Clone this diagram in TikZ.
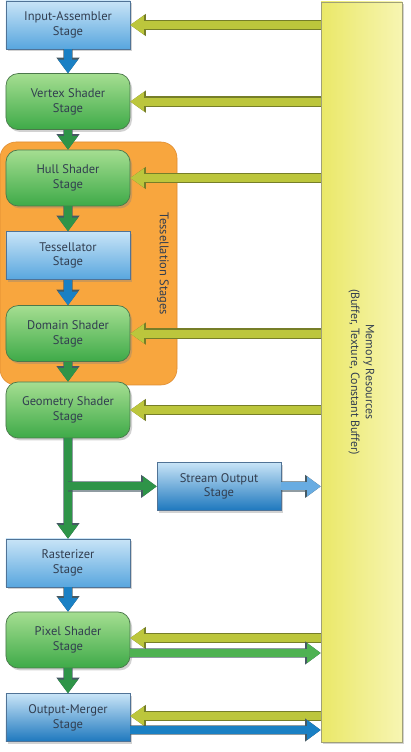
\documentclass[tikz,border=0pt]{standalone}
\usepackage{fontspec}
\setmainfont{PT Sans}
\setsansfont{PT Sans}
\usetikzlibrary{arrows.meta,positioning,shadows}

\definecolor{pipeBlueTop}{RGB}{200,228,247}
\definecolor{pipeBlueBottom}{RGB}{88,166,222}
\definecolor{pipeBlueDeep}{RGB}{30,120,190}
\definecolor{pipeBlueEdge}{RGB}{80,115,150}
\definecolor{pipeGreenTop}{RGB}{165,222,145}
\definecolor{pipeGreenBottom}{RGB}{62,170,72}
\definecolor{pipeGreenEdge}{RGB}{75,120,75}
\definecolor{pipeGreenArrow}{RGB}{46,148,72}
\definecolor{pipeGreenLight}{RGB}{78,178,82}
\definecolor{pipeBlueArrow}{RGB}{26,128,196}
\definecolor{pipeBlueLight}{RGB}{104,172,226}
\definecolor{pipeArrowEdge}{RGB}{70,90,100}
\definecolor{pipeOlive}{RGB}{188,198,60}
\definecolor{pipeOliveEdge}{RGB}{118,126,40}
\definecolor{pipeMemLeft}{RGB}{234,232,104}
\definecolor{pipeMemRight}{RGB}{247,245,178}
\definecolor{pipeMemEdge}{RGB}{160,160,120}
\definecolor{pipeOrange}{RGB}{248,166,62}
\definecolor{pipeOrangeEdge}{RGB}{222,140,50}
\definecolor{pipeText}{RGB}{50,62,80}

\begin{document}
\begin{tikzpicture}[x=1cm,y=1cm,
      stage/.style={font=\fontsize{8.9}{10.4}\selectfont\sffamily,
        text=pipeText, align=center, draw=pipeBlueEdge, line width=.5pt,
        minimum width=3.1cm, minimum height=1.2cm,
        top color=pipeBlueTop, bottom color=#1,
        drop shadow={shadow xshift=.05cm, shadow yshift=-.06cm, opacity=.35}},
      stage/.default=pipeBlueBottom,
      shader/.style={font=\fontsize{8.9}{10.4}\selectfont\sffamily,
        text=pipeText, align=center, draw=pipeGreenEdge, line width=.5pt,
        minimum width=3.1cm, minimum height=1.4cm, rounded corners=.3cm,
        top color=pipeGreenTop, bottom color=pipeGreenBottom,
        drop shadow={shadow xshift=.05cm, shadow yshift=-.06cm, opacity=.35}},
      membar/.style={draw=pipeMemEdge, line width=.5pt,
        minimum width=2.025cm, minimum height=18.5cm,
        left color=pipeMemLeft, right color=pipeMemRight,
        drop shadow={shadow xshift=.05cm, shadow yshift=-.06cm, opacity=.35}},
      memlabel/.style={font=\fontsize{8.5}{10.5}\selectfont\sffamily,
        text=pipeText, align=center, rotate=-90},
      tesspanel/.style={fill=pipeOrange, draw=pipeOrangeEdge, line width=.4pt,
        rounded corners=.4cm, minimum width=4.425cm, minimum height=6.075cm},
      fatarrow/.style={line width=.2cm, draw=#1,
        -{Triangle[width=.5cm,length=.34cm,line width=0pt]},
        preaction={draw=pipeArrowEdge, draw opacity=.6, line width=.26cm,
          -{Triangle[width=.58cm,length=.39cm,line width=0pt]}}},
      memin/.style={line width=.2cm, draw=pipeOlive,
        -{Triangle[width=.48cm,length=.34cm,line width=0pt]},
        preaction={draw=pipeOliveEdge, line width=.26cm,
          -{Triangle[width=.56cm,length=.39cm,line width=0pt]}}}]
      \useasboundingbox (0,0) rectangle (10.25,18.8);
      \fill[white] (0,0) rectangle (10.25,18.8);

      % memory resources
      \node[membar] (mem) at (9.0375,9.5) {};
      \node[memlabel] (memtext) at (mem.center)
        {Memory Resources\\(Buffer, Texture, Constant Buffer)};

      % tessellation group
      \node[tesspanel] (tess) at (2.2125,12.2125) {};
      \node[font=\fontsize{8.9}{10.4}\selectfont\sffamily, text=pipeText,
        rotate=-90] (tesstext) at (4.075,12.2) {Tessellation Stages};

      % pipeline stages
      \node[stage] (ia) at (1.70,18.175) {Input-Assembler\\Stage};
      \node[shader] (vs) at (1.70,16.26) {Vertex Shader\\Stage};
      \node[shader] (hs) at (1.70,14.35) {Hull Shader\\Stage};
      \node[stage] (ts) at (1.70,12.41) {Tessellator\\Stage};
      \node[shader] (ds) at (1.70,10.46) {Domain Shader\\Stage};
      \node[shader] (gs) at (1.70,8.55) {Geometry Shader\\Stage};
      \node[stage=pipeBlueDeep] (so) at (5.475,6.64) {Stream Output\\Stage};
      \node[stage] (rs) at (1.70,4.725) {Rasterizer\\Stage};
      \node[shader] (ps) at (1.70,2.80) {Pixel Shader\\Stage};
      \node[stage=pipeBlueDeep] (om) at (1.70,0.86) {Output-Merger\\Stage};

      % flow down the pipeline
      \draw[fatarrow=pipeBlueArrow] (ia) -- (vs);
      \draw[fatarrow=pipeGreenArrow] (vs) -- (hs);
      \draw[fatarrow=pipeGreenArrow] (hs) -- (ts);
      \draw[fatarrow=pipeBlueArrow] (ts) -- (ds);
      \draw[fatarrow=pipeGreenArrow] (ds) -- (gs);
      \draw[fatarrow=pipeGreenArrow] (gs) -- (rs);
      \coordinate (split) at (gs.south |- so.west);
      \draw[fatarrow=pipeGreenArrow] (split) -- (so);
      \draw[fatarrow=pipeBlueArrow] (rs) -- (ps);
      \draw[fatarrow=pipeGreenArrow] (ps) -- (om);

      % reads from memory
      \coordinate (psin) at ([yshift=.05cm]ps.east);
      \coordinate (psout) at ([yshift=-.325cm]ps.east);
      \coordinate (omin) at ([yshift=.04cm]om.east);
      \coordinate (omout) at ([yshift=-.31cm]om.east);
      \foreach \n in {ia,vs,hs,ds,gs}
        \draw[memin] (mem.west |- \n) -- (\n);
      \draw[memin] (mem.west |- psin) -- (psin);
      \draw[memin] (mem.west |- omin) -- (omin);

      % writes to memory
      \draw[fatarrow=pipeBlueLight] (so) -- (so -| mem.west);
      \draw[fatarrow=pipeGreenLight] (psout) -- (psout -| mem.west);
      \draw[fatarrow=pipeBlueArrow] (omout) -- (omout -| mem.west);
    \end{tikzpicture}
\end{document}
